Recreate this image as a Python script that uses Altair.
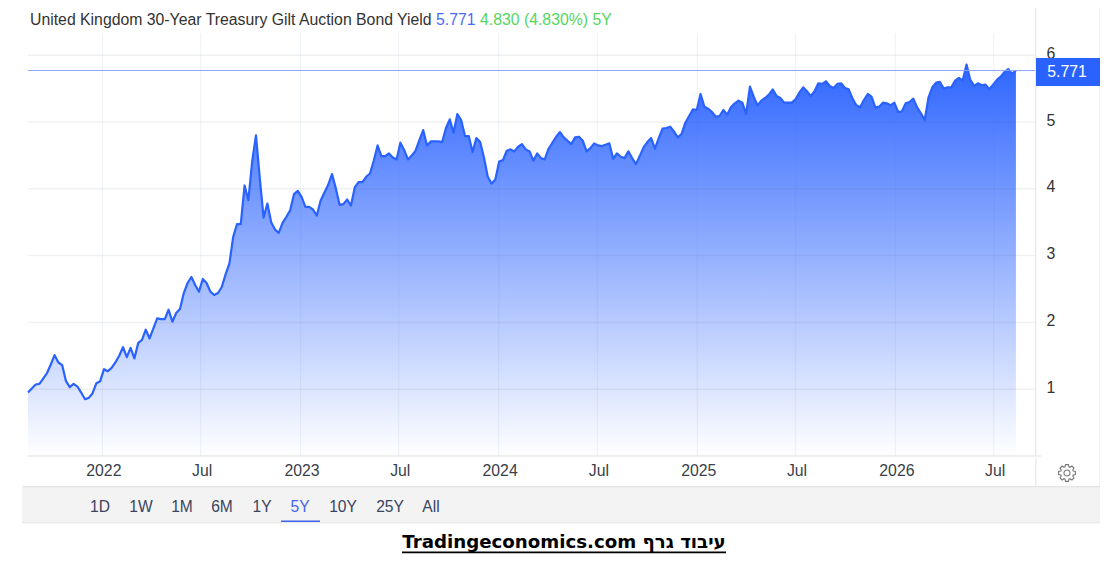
import math
import altair as alt
import pandas as pd

START_DATE = "2021-08-17"
YIELDS = [
 0.95,1.01,1.07,1.08,1.16,1.24,1.37,1.51,1.40,1.36,1.12,1.03,1.08,1.04,0.95,0.85,0.87,0.94,1.09,1.12,
 1.30,1.27,1.32,1.40,1.50,1.63,1.48,1.62,1.46,1.69,1.74,1.89,1.76,1.91,2.06,2.05,2.05,2.19,2.01,2.14,
 2.20,2.44,2.59,2.68,2.56,2.46,2.65,2.59,2.46,2.41,2.44,2.53,2.72,2.88,3.28,3.47,3.47,4.05,3.83,4.41,
 4.80,4.16,3.57,3.78,3.50,3.39,3.34,3.49,3.58,3.68,3.92,3.97,3.88,3.73,3.73,3.69,3.60,3.82,3.94,4.06,
 4.22,4.01,3.76,3.77,3.84,3.75,4.02,4.10,4.10,4.18,4.23,4.42,4.65,4.49,4.49,4.53,4.47,4.44,4.69,4.58,
 4.44,4.50,4.57,4.73,4.88,4.65,4.71,4.71,4.71,4.70,4.91,5.04,4.84,5.12,5.03,4.79,4.79,4.55,4.76,4.70,
 4.47,4.18,4.08,4.14,4.41,4.43,4.57,4.59,4.56,4.63,4.67,4.59,4.56,4.42,4.53,4.46,4.44,4.60,4.69,4.78,
 4.85,4.77,4.72,4.67,4.77,4.78,4.72,4.56,4.61,4.68,4.65,4.64,4.66,4.68,4.45,4.53,4.48,4.46,4.56,4.46,
 4.37,4.49,4.62,4.70,4.76,4.60,4.76,4.90,4.91,4.93,4.86,4.77,4.82,4.99,5.09,5.19,5.18,5.42,5.23,5.20,
 5.15,5.08,5.09,5.18,5.11,5.22,5.28,5.32,5.29,5.12,5.53,5.38,5.25,5.32,5.36,5.41,5.49,5.39,5.36,5.29,
 5.29,5.29,5.34,5.44,5.52,5.46,5.39,5.46,5.58,5.57,5.61,5.54,5.51,5.57,5.58,5.51,5.49,5.35,5.25,5.22,
 5.33,5.42,5.38,5.22,5.23,5.29,5.28,5.25,5.29,5.15,5.16,5.28,5.30,5.35,5.22,5.13,5.03,5.37,5.52,5.59,
 5.60,5.50,5.52,5.52,5.62,5.66,5.62,5.86,5.63,5.54,5.58,5.55,5.56,5.49,5.56,5.63,5.68,5.75,5.79,5.72,5.771,
]
LAST_VALUE = 5.771
Y_TICKS = [1, 2, 3, 4, 5, 6]
X_TICKS = ["2022-01-01","2022-07-01","2023-01-01","2023-07-01","2024-01-01","2024-07-01",
           "2025-01-01","2025-07-01","2026-01-01","2026-07-01"]
RANGE_LABELS = ["1D","1W","1M","6M","1Y","5Y","10Y","25Y","All"]
RANGE_CENTERS = [100,141,182,222,262,300,343,390,431]

BLUE = "#2962FF"
OX, OY = 28, 8          # page position of the plot's origin
W, H = 1008, 448
LABEL = 15.8

df = pd.DataFrame({"date": pd.date_range(START_DATE, periods=len(YIELDS), freq="7D").strftime("%Y-%m-%d"),
                   "y": YIELDS})
x_scale = alt.Scale(domain=["2021-08-17", "2026-09-17"])
y_scale = alt.Scale(domain=[0, 6.707], nice=False, zero=False)
one = alt.Chart(pd.DataFrame({"a": [0]}))

def text(s, px, py, color="#333333", size=LABEL, align="left", font="Liberation Sans", weight="normal"):
    return one.mark_text(text=s, color=color, fontSize=size, align=align, baseline="middle",
                         font=font, fontWeight=weight).encode(x=alt.value(px - OX), y=alt.value(py - OY))

def rect(x0, x1, y0, y1, color):
    return one.mark_rect(color=color).encode(x=alt.value(x0 - OX), x2=alt.value(x1 - OX),
                                             y=alt.value(y0 - OY), y2=alt.value(y1 - OY))

def gear_path(teeth=8, outer=1.0, inner=0.76, hole=0.36):
    pts = []
    step = 2 * math.pi / teeth
    for k in range(teeth):
        a = k * step
        for da, r in ((-0.30, inner), (-0.17, outer), (0.17, outer), (0.30, inner)):
            pts.append((r * math.cos(a + da * step * 1.3), r * math.sin(a + da * step * 1.3)))
    outline = "M" + " L".join(f"{x:.3f},{y:.3f}" for x, y in pts) + " Z"
    ring = f" M{hole:.3f},0 A{hole:.3f},{hole:.3f} 0 1,0 {-hole:.3f},0 A{hole:.3f},{hole:.3f} 0 1,0 {hole:.3f},0 Z"
    return outline + ring

area = alt.Chart(df).mark_area(
    fill=alt.Gradient(gradient="linear", x1=0, x2=0, y1=0, y2=1,
                      stops=[alt.GradientStop(color="#2f66ff", offset=0),
                             alt.GradientStop(color="#ffffff", offset=1)]),
    opacity=1,
).encode(
    x=alt.X("date:T", scale=x_scale, title=None,
            axis=alt.Axis(values=X_TICKS, grid=False, domain=False, ticks=False, labelPadding=7,
                          labelOffset=1, labelFont="Liberation Sans", labelFontSize=LABEL, labelColor="#3a3f4a",
                          labelOverlap=False,
                          labelExpr="month(datum.value)==0 ? timeFormat(datum.value,'%Y') : 'Jul'")),
    y=alt.Y("y:Q", scale=y_scale, title=None,
            axis=alt.Axis(orient="right", values=Y_TICKS, grid=False, domain=False, ticks=False,
                          labelPadding=10, labelOffset=-2, labelFont="Liberation Sans", labelFontSize=LABEL,
                          labelColor="#333333", format="d")),
)
line = alt.Chart(df).mark_line(color=BLUE, strokeWidth=2.2, strokeJoin="round").encode(
    x=alt.X("date:T", scale=x_scale), y=alt.Y("y:Q", scale=y_scale))

grid_h = alt.Chart(pd.DataFrame({"v": Y_TICKS})).mark_rule(color="#5a6070", opacity=0.09, strokeWidth=1.5).encode(
    y=alt.Y("v:Q", scale=y_scale))
grid_v = alt.Chart(pd.DataFrame({"d": X_TICKS})).mark_rule(color="#4f86c0", opacity=0.09, strokeWidth=1.2).encode(
    x=alt.X("d:T", scale=x_scale), y=alt.value(33 - OY), y2=alt.value(H))
last = alt.Chart(pd.DataFrame({"v": [LAST_VALUE]})).mark_rule(color="#8fa8ff", strokeWidth=1).encode(
    y=alt.Y("v:Q", scale=y_scale))
gear = one.mark_point(shape=gear_path(), size=290, filled=False, stroke="#777777", strokeWidth=1.1, opacity=1).encode(
    x=alt.value(1067 - OX), y=alt.value(473 - OY))

layers = [
    area, grid_h, grid_v, line, last,
    rect(28, 1041, 455.2, 456.8, "#e9e9e9"),
    rect(1035.2, 1036.4, 8, 487, "#e8e8e8"),
    rect(1035.2, 1036.4, 456.8, 459.5, "#ffffff"),
    rect(1099.4, 1100.6, 8, 522, "#e8e8e8"),
    rect(22, 1100, 487, 522, "#f3f3f3"),
    rect(22, 1100, 486, 487.2, "#e4e4e8"),
    rect(22, 1100, 522, 523.2, "#e8e8e8"),
    rect(1036, 1100, 58, 86, BLUE),
    text("5.771", 1067, 72, color="#ffffff", align="center"),
    text("United Kingdom 30-Year Treasury Gilt Auction Bond Yield", 30, 20),
    text("5.771", 436, 20, color="#4a6cf7"),
    text("4.830 (4.830%) 5Y", 480, 20, color="#55d65f"),
    gear,
    rect(281, 320, 520.6, 522, "#3f63e8"),
    text("Tradingeconomics.com \u05e2\u05d9\u05d1\u05d5\u05d3 \u05d2\u05e8\u05e3", 564, 543,
         color="#000000", size=18.2, align="center", font="DejaVu Sans", weight="bold"),
    rect(402, 726, 551.5, 553.2, "#000000"),
]
for lab, c in zip(RANGE_LABELS, RANGE_CENTERS):
    layers.append(text(lab, c, 507, color="#4466ee" if lab == "5Y" else "#3a4560", align="center", size=15.6))

chart = alt.layer(*layers).properties(
    width=W, height=H, background="#ffffff",
    padding={"left": 20, "top": 0, "right": 64, "bottom": 100},
    autosize=alt.AutoSizeParams(type="none"),
).configure_view(stroke=None)

chart.save("out.html", embed_options={"renderer": "svg", "actions": False})
